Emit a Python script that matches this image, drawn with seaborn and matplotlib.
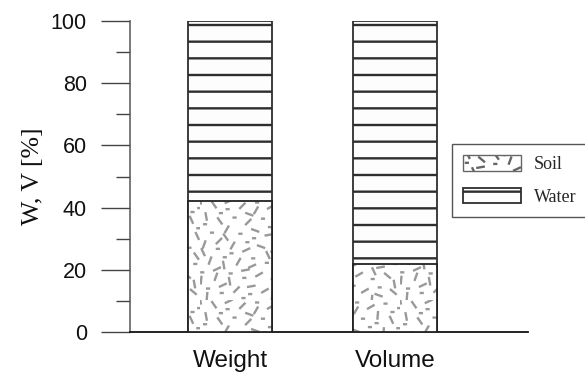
import warnings

import numpy as np
import matplotlib
matplotlib.use("Agg")
import matplotlib.pyplot as plt
import matplotlib.patches as mpatches
from matplotlib import hatch as mhatch
from matplotlib.path import Path
from matplotlib.ticker import MultipleLocator
import seaborn as sns

warnings.filterwarnings("ignore")

# --- data -----------------------------------------------------------------
categories = ["Weight", "Volume"]
soil_pct = [42, 22]
water_pct = [58, 78]
y_ticks = [0, 20, 40, 60, 80, 100]
legend_labels = ["Soil", "Water"]

totals = [s + w for s, w in zip(soil_pct, water_pct)]


# --- soil texture: short strokes at assorted angles plus small dots -------
class SpeckleHatch(mhatch.HatchPatternBase):
    angles = [25, 70, 115, 160, 45, 100, 140, 10, 60, 125, 85, 30]

    def __init__(self, hatch, density):
        self.num_marks = 84 * hatch.count("s")
        self.num_vertices = 2 * self.num_marks

    def set_vertices_and_codes(self, vertices, codes):
        g1, g2 = 0.7548776662, 0.5698402910
        for i in range(self.num_marks):
            cx = (0.17 + i * g1) % 1.0
            cy = (0.31 + i * g2) % 1.0
            if i % 5 in (1, 3):
                half = 0.009
                ang = 0.0
            else:
                half = 0.032
                ang = np.deg2rad(self.angles[i % len(self.angles)])
            dx, dy = half * np.cos(ang), half * np.sin(ang)
            vertices[2 * i] = (cx - dx, cy - dy)
            vertices[2 * i + 1] = (cx + dx, cy + dy)
            codes[2 * i] = Path.MOVETO
            codes[2 * i + 1] = Path.LINETO


mhatch._hatch_types.append(SpeckleHatch)

# --- style ----------------------------------------------------------------
sns.set_style("ticks")
plt.rcParams["font.family"] = ["Liberation Sans", "DejaVu Sans"]
plt.rcParams["hatch.linewidth"] = 1.7

fig = plt.figure(figsize=(5.85, 3.76), dpi=100)
ax = fig.add_axes([130 / 585, 1 - 332 / 376, (528 - 130) / 585, (332 - 21) / 376])

WATER_FACE = "#fdfdfd"
SOIL_FACE = "#ffffff"
WATER_HATCH = "#2e2e2e"
SOIL_HATCH = "#999999"
BAR_W = 0.51

# full column (water layer shows above the soil)
sns.barplot(x=categories, y=totals, ax=ax, width=BAR_W, errorbar=None,
            color=WATER_FACE, edgecolor=WATER_HATCH, linewidth=1.3,
            hatch="-", zorder=2)
# soil layer with texture
sns.barplot(x=categories, y=soil_pct, ax=ax, width=BAR_W, errorbar=None,
            color=SOIL_FACE, edgecolor=SOIL_HATCH, linewidth=0,
            hatch="s", zorder=3)
# soil outline
sns.barplot(x=categories, y=soil_pct, ax=ax, width=BAR_W, errorbar=None,
            fill=False, color="#222222", linewidth=1.3, zorder=4)

ax.set_xlim(-0.606, 1.803)
ax.set_ylim(0, 100)
ax.set_yticks(y_ticks)
ax.yaxis.set_minor_locator(MultipleLocator(10))

sns.despine(ax=ax)
ax.spines["left"].set_color("#555555")
ax.spines["left"].set_linewidth(1.1)
ax.spines["bottom"].set_color("#111111")
ax.spines["bottom"].set_linewidth(1.3)

ax.tick_params(axis="y", which="major", length=21, width=1.0, color="#444444",
               pad=10, labelsize=15.5, labelcolor="#111111")
ax.tick_params(axis="y", which="minor", length=10, width=1.0, color="#444444")
ax.tick_params(axis="x", length=0, pad=13, labelsize=17.5, labelcolor="#111111")

ax.set_xlabel("")
ax.set_ylabel("W, V [%]", family=["Liberation Serif", "DejaVu Serif"],
              fontsize=18.5, labelpad=5, color="#111111")

# --- legend ---------------------------------------------------------------
handles = [
    mpatches.Patch(facecolor=SOIL_FACE, edgecolor="#666666", hatch="s",
                   linewidth=1.0),
    mpatches.Patch(facecolor=WATER_FACE, edgecolor=WATER_HATCH, hatch="-",
                   linewidth=1.3),
]
leg = fig.legend(handles, legend_labels, loc="upper left",
                 bbox_to_anchor=(451.5 / 585, 1 - 143.5 / 376),
                 borderaxespad=0, fancybox=False, framealpha=1,
                 edgecolor="#555555", handlelength=3.2, handleheight=0.95,
                 handletextpad=0.7, labelspacing=0.8, borderpad=0.65,
                 prop={"family": ["Liberation Serif", "DejaVu Serif"],
                       "size": 13})
leg.get_frame().set_linewidth(1.0)

fig.savefig("out.png", dpi=100)
